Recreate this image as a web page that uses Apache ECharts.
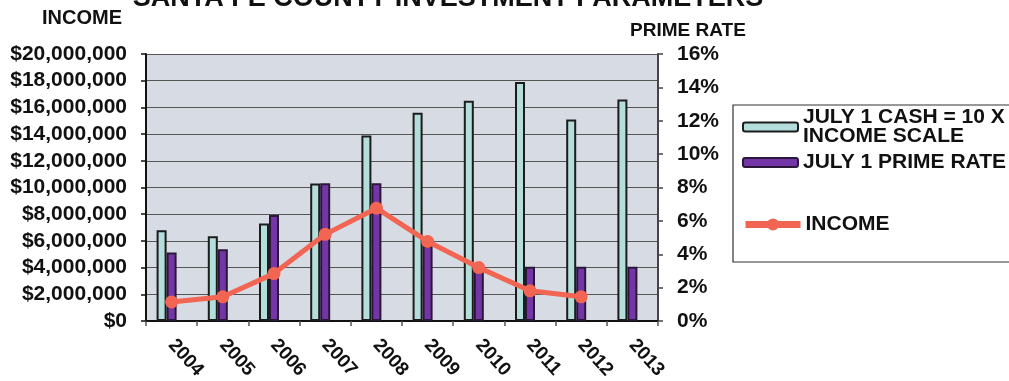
<!DOCTYPE html>
<html>
<head>
<meta charset="utf-8">
<script src="https://cdn.jsdelivr.net/npm/echarts@6/dist/echarts.min.js"></script>
<style>
  html, body { margin: 0; padding: 0; background: #ffffff; }
  #chart { width: 1009px; height: 381px; }
</style>
</head>
<body>
<div id="chart"></div>
<script>
// Fiscal years on the category axis
const years = ['2004', '2005', '2006', '2007', '2008', '2009', '2010', '2011', '2012', '2013'];

// July 1 cash balance, drawn on the income axis at one tenth of its size
const cashIncomeScale = [6800000, 6350000, 7300000, 10300000, 13900000, 15600000, 16500000, 17900000, 15100000, 16600000];

// July 1 prime rate, percent
const primeRate = [4.1, 4.3, 6.35, 8.25, 8.25, 4.5, 3.25, 3.25, 3.25, 3.25];

// Investment income, dollars (no figure yet for 2013)
const income = [1430000, 1810000, 3550000, 6490000, 8450000, 5960000, 4000000, 2260000, 1810000, null];

// Axis ranges
const incomeAxis = { min: 0, max: 20000000, step: 2000000 };
const rateAxis = { min: 0, max: 16, step: 2 };

const FONT = '"Liberation Sans", Arial, sans-serif';
const INK = '#111111';

const chart = echarts.init(document.getElementById('chart'), null, { renderer: 'canvas' });

const legendText = { fontFamily: FONT, fontWeight: 'bold', fontSize: 21, color: INK, lineHeight: 19 };

chart.setOption({
  backgroundColor: '#ffffff',
  animation: false,
  title: {
    text: 'SANTA FE COUNTY INVESTMENT PARAMETERS',
    left: 448,
    textAlign: 'center',
    top: -15,
    padding: 0,
    textStyle: { fontFamily: FONT, fontWeight: 'bold', fontSize: 27, color: INK }
  },
  grid: {
    left: 146, right: 351, top: 54, bottom: 60,
    outerBoundsMode: 'none',
    containLabel: false,
    show: true, backgroundColor: '#d7dbe4', borderWidth: 0
  },
  legend: [
    {
      data: ['JULY 1 CASH = 10 X\nINCOME SCALE'],
      left: 742, top: 107, padding: 0,
      itemWidth: 55, itemHeight: 9,
      textStyle: legendText
    },
    {
      data: ['JULY 1 PRIME RATE'],
      left: 742, top: 152, padding: 0,
      itemWidth: 55, itemHeight: 9,
      textStyle: legendText
    },
    {
      data: ['INCOME'],
      left: 742, top: 214, padding: 0,
      itemWidth: 55, itemHeight: 15,
      lineStyle: { width: 7 },
      textStyle: legendText
    }
  ],
  graphic: [
    {
      type: 'rect',
      shape: { x: 733, y: 105, width: 290, height: 157 },
      style: { fill: 'none', stroke: '#333333', lineWidth: 1.2 },
      z: -1
    }
  ],
  xAxis: {
    type: 'category',
    data: years,
    boundaryGap: true,
    axisLine: { lineStyle: { color: '#111111', width: 2 } },
    axisTick: { show: true, length: 5, lineStyle: { color: '#555555', width: 1.5 } },
    axisLabel: {
      rotate: -48, margin: 21,
      fontFamily: FONT, fontWeight: 'bold', fontSize: 19, color: INK
    }
  },
  yAxis: [
    {
      type: 'value',
      min: incomeAxis.min, max: incomeAxis.max, interval: incomeAxis.step,
      name: 'INCOME',
      nameLocation: 'end',
      nameGap: 36,
      nameTextStyle: {
        fontFamily: FONT, fontWeight: 'bold', fontSize: 20, color: INK,
        align: 'right', verticalAlign: 'middle', padding: [0, 24, 0, 0]
      },
      axisLine: { show: true, lineStyle: { color: '#111111', width: 2 } },
      axisTick: { show: true, length: 5, lineStyle: { color: '#111111', width: 1.5 } },
      splitLine: { show: true, lineStyle: { color: '#555555', width: 1 } },
      axisLabel: {
        margin: 19,
        fontFamily: FONT, fontWeight: 'bold', fontSize: 21, color: INK,
        formatter: v => '$' + v.toLocaleString('en-US')
      }
    },
    {
      type: 'value',
      position: 'right',
      min: rateAxis.min, max: rateAxis.max, interval: rateAxis.step,
      name: 'PRIME RATE',
      nameLocation: 'end',
      nameGap: 23,
      nameTextStyle: {
        fontFamily: FONT, fontWeight: 'bold', fontSize: 19, color: INK,
        align: 'center', verticalAlign: 'middle', padding: [0, 0, 0, 60]
      },
      axisLine: { show: true, lineStyle: { color: '#444444', width: 2 } },
      axisTick: { show: true, length: 5, lineStyle: { color: '#444444', width: 1.5 } },
      splitLine: { show: false },
      axisLabel: {
        margin: 19,
        fontFamily: FONT, fontWeight: 'bold', fontSize: 21, color: INK,
        formatter: v => v + '%'
      }
    }
  ],
  series: [
    {
      name: 'JULY 1 CASH = 10 X\nINCOME SCALE',
      type: 'bar',
      yAxisIndex: 0,
      data: cashIncomeScale,
      barWidth: 10,
      barGap: '0%',
      itemStyle: { color: '#b4dedb', borderColor: '#1c1c1c', borderWidth: 2 },
      z: 2
    },
    {
      name: 'JULY 1 PRIME RATE',
      type: 'bar',
      yAxisIndex: 1,
      data: primeRate,
      barWidth: 10,
      barGap: '0%',
      itemStyle: { color: '#7436a6', borderColor: '#2a1838', borderWidth: 2 },
      z: 2
    },
    {
      // empty slot to the right of each pair of columns
      name: 'slot',
      type: 'bar',
      yAxisIndex: 0,
      data: [],
      barWidth: 10,
      barGap: '0%'
    },
    {
      name: 'INCOME',
      type: 'line',
      yAxisIndex: 0,
      data: income,
      symbol: 'circle',
      symbolSize: 13,
      lineStyle: { color: '#f26552', width: 5 },
      itemStyle: { color: '#f26552' },
      z: 5
    }
  ]
});
</script>
</body>
</html>
